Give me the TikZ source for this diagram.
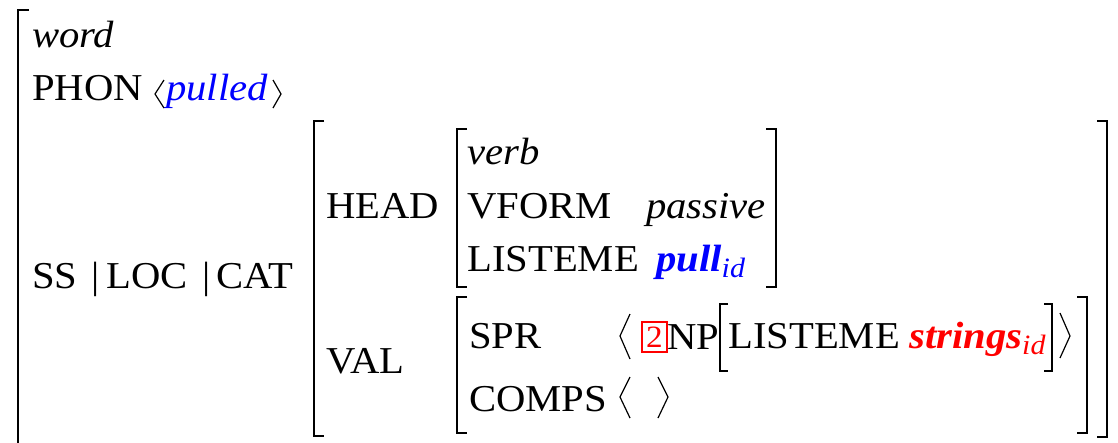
\documentclass[tikz,border=0pt]{standalone}
\usepackage{fontspec}
\setmainfont[FakeStretch=1.07]{Liberation Serif}
\begin{document}
\begin{tikzpicture}[x=1pt,y=-1pt,
  lbl/.style={anchor=base west, inner sep=0pt, font=\fontsize{38}{44}\selectfont},
  val/.style={lbl, font=\fontsize{38}{44}\selectfont\itshape},
  brk/.style={line width=2.6pt},
  ang/.style={line width=1.2pt, line join=miter},
  tagbox/.style={draw=red, line width=1.4pt, text=red, inner sep=0pt,
    minimum width=25pt, minimum height=30pt, font=\fontsize{31}{31}\selectfont},
]
\useasboundingbox (0,0) rectangle (1118,442);

% feature names and values
\node[val] (word) at (32,47) {word};
\node[lbl] (phon) at (32,100) {PHON};
\node[val, text=blue] (pulled) at (166,100) {pulled};
\node[lbl] (ss) at (32,288) {SS};
\node[lbl] (bar1) at (91,288) {|};
\node[lbl] (loc) at (106,288) {LOC};
\node[lbl] (bar2) at (202,288) {|};
\node[lbl] (cat) at (216,288) {CAT};
\node[lbl] (head) at (326,218) {HEAD};
\node[val] (verb) at (467,164) {verb};
\node[lbl] (vform) at (467,218) {VFORM};
\node[val] (passive) at (646,218) {passive};
\node[lbl] (lst1) at (467,271) {LISTEME};
\node[val, text=blue] (pull) at (656,271)
  {\textbf{pull}\raisebox{-6pt}{\fontsize{28}{30}\selectfont id}};
\node[lbl] (valf) at (326,373) {VAL};
\node[lbl] (spr) at (469,348) {SPR};
\node[tagbox] (tag) at (654.5,337) {2};
\node[lbl] (np) at (667,349) {NP};
\node[lbl] (lst2) at (728,348) {LISTEME};
\node[val, text=red] (strings) at (909,348)
  {\textbf{strings}\raisebox{-6pt}{\fontsize{28}{30}\selectfont id}};
\node[lbl] (comps) at (469,411) {COMPS};

% square brackets of the matrices
\draw[brk] (29,10) -- (18,10) -- (18,445);
\draw[brk] (324,121) -- (314,121) -- (314,436) -- (324,436);
\draw[brk] (1097,121) -- (1107,121) -- (1107,437) -- (1097,437);
\draw[brk] (467,129) -- (457,129) -- (457,287) -- (467,287);
\draw[brk] (766,129) -- (776,129) -- (776,287) -- (766,287);
\draw[brk] (467,297) -- (457,297) -- (457,433) -- (467,433);
\draw[brk] (1077,297) -- (1087,297) -- (1087,433) -- (1077,433);
\draw[brk, line width=1.6pt] (728,304) -- (720,304) -- (720,371) -- (728,371);
\draw[brk, line width=1.6pt] (1044,304) -- (1052,304) -- (1052,371) -- (1044,371);

% angle brackets of the lists
\draw[ang] (164,80) -- (155,94) -- (164,108);
\draw[ang] (273,80) -- (281,94) -- (273,108);
\draw[ang] (630,314) -- (620,336) -- (630,359);
\draw[ang] (1060,313) -- (1070,336) -- (1060,358);
\draw[ang] (630,377) -- (620,397) -- (630,418);
\draw[ang] (658,377) -- (668,397) -- (658,418);
\end{tikzpicture}
\end{document}
